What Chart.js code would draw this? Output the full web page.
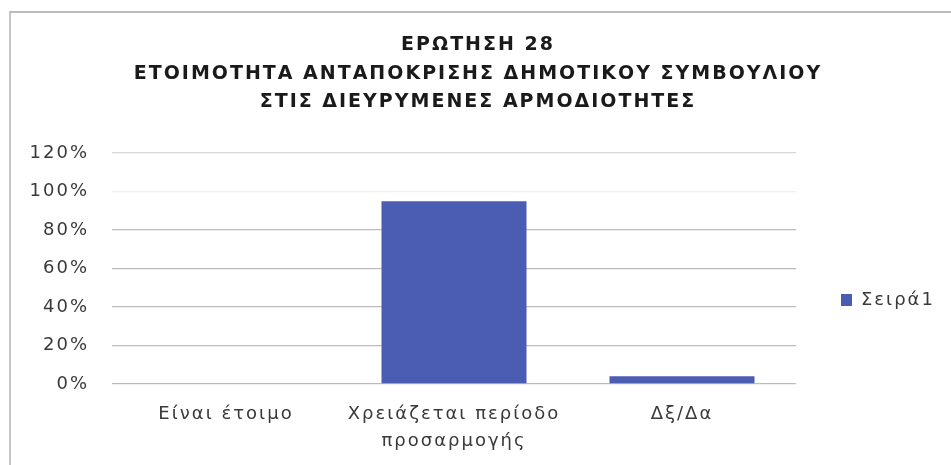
<!DOCTYPE html>
<html><head><meta charset="utf-8">
<script src="https://cdn.jsdelivr.net/npm/chart.js@4"></script>
<style>
html,body{margin:0;padding:0;background:#fff;overflow:hidden;}
#frame{position:absolute;left:9px;top:11px;width:960px;height:470px;border-top:2px solid #bcbcbc;border-left:2px solid #c4c4cc;box-sizing:border-box;pointer-events:none;}
canvas{position:absolute;left:0;top:0;display:block;}
</style></head><body>
<canvas id="c" width="951" height="465"></canvas>
<div id="frame"></div>
<script>
const titleLines = ["ΕΡΩΤΗΣΗ 28", "ΕΤΟΙΜΟΤΗΤΑ ΑΝΤΑΠΟΚΡΙΣΗΣ ΔΗΜΟΤΙΚΟΥ ΣΥΜΒΟΥΛΙΟΥ", "ΣΤΙΣ ΔΙΕΥΡΥΜΕΝΕΣ ΑΡΜΟΔΙΟΤΗΤΕΣ"];
const categories = ["Είναι έτοιμο", ["Χρειάζεται περίοδο", "προσαρμογής"], "Δξ/Δα"];
const seriesName = "Σειρά1";
const seriesValues = [0, 95, 4];
const yTicks = [0, 20, 40, 60, 80, 100, 120];

const canvas = document.getElementById('c');
const hasSpacing = 'letterSpacing' in canvas.getContext('2d');
const SP = hasSpacing ? '2px' : '0px';
const tickSize = hasSpacing ? 18 : 20;
const titleSize = hasSpacing ? 19 : 21.5;
const FONT = "'DejaVu Sans', sans-serif";

const spacingPlugin = {
  id: 'spacing',
  beforeUpdate(chart) { chart.ctx.letterSpacing = SP; },
  beforeDraw(chart) {
    chart.ctx.letterSpacing = SP;
    const lg = chart.legend;
    if (lg) {
      const pad = lg.options.labels.padding;
      lg.left = 841 - pad;
      lg.top = 260;
      lg.bottom = 340;
    }
  }
};

new Chart(canvas, {
  type: 'bar',
  data: {
    labels: categories,
    datasets: [{
      label: seriesName,
      data: seriesValues,
      backgroundColor: '#4b5db3',
      borderWidth: 0,
      barPercentage: 0.636,
      categoryPercentage: 1.0
    }]
  },
  plugins: [spacingPlugin],
  options: {
    responsive: false,
    animation: false,
    devicePixelRatio: 1,
    layout: { padding: { left: 5, right: 0, top: 0, bottom: 0 } },
    plugins: {
      title: {
        display: true,
        text: titleLines,
        color: '#1a1a1a',
        font: { family: FONT, size: titleSize, weight: 'bold', lineHeight: 28.5 / titleSize },
        padding: { top: 31, bottom: 36.5 }
      },
      legend: {
        position: 'right',
        align: 'center',
        maxWidth: 155,
        labels: {
          boxWidth: 11, boxHeight: 12,
          color: '#3a3a3a',
          padding: 100,
          font: { family: FONT, size: tickSize }
        }
      },
      tooltip: { enabled: false }
    },
    scales: {
      x: {
        afterFit: (s) => { s.height = 81; },
        grid: { display: false, drawTicks: false },
        border: { display: false },
        ticks: { color: '#3a3a3a', padding: 17, maxRotation: 0, autoSkip: false,
                 font: { family: FONT, size: tickSize, lineHeight: 27 / tickSize } }
      },
      y: {
        min: 0, max: 120,
        afterFit: (s) => { s.width = 107; },
        afterBuildTicks: (axis) => { axis.ticks = yTicks.map(v => ({ value: v })); },
        grid: {
          drawTicks: false,
          color: (c) => (c.tick && c.tick.value === 100) ? '#eeeeee' : (c.tick && c.tick.value === 120 ? '#d6d6d6' : '#bcbcbc'),
          lineWidth: 1.3
        },
        border: { display: false },
        ticks: { color: '#3a3a3a', padding: 23, callback: v => v + '%',
                 font: { family: FONT, size: tickSize } }
      }
    }
  }
});
</script>
</body></html>
